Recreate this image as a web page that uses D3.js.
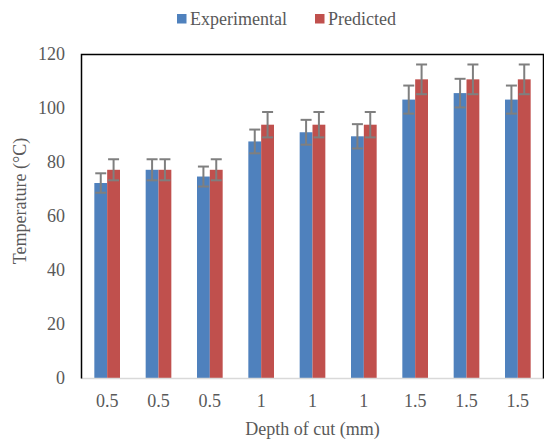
<!DOCTYPE html>
<html>
<head>
<meta charset="utf-8">
<script src="https://cdn.jsdelivr.net/npm/d3@7"></script>
<style>
  html, body { margin: 0; padding: 0; background: #fff; }
  svg { display: block; font-family: "Liberation Serif", "Times New Roman", serif; }
</style>
</head>
<body>
<svg id="chart" width="544" height="441"></svg>
<script>
// Depth of cut for each test run
const categories = ["0.5", "0.5", "0.5", "1", "1", "1", "1.5", "1.5", "1.5"];
// Measured and model temperatures (°C)
const experimental = [72.4, 77.3, 74.8, 87.8, 91.2, 89.7, 103.3, 105.7, 103.3];
const predicted = [77.3, 77.3, 77.3, 94.0, 94.0, 94.0, 110.8, 110.8, 110.8];
// Error bar half-lengths (°C)
const experimentalErr = [3.6, 3.9, 3.7, 4.4, 4.6, 4.5, 5.2, 5.3, 5.2];
const predictedErr = [3.9, 3.9, 3.9, 4.7, 4.7, 4.7, 5.5, 5.5, 5.5];
const yTicks = [0, 20, 40, 60, 80, 100, 120];
const seriesNames = ["Experimental", "Predicted"];
const seriesColors = ["#4f81bd", "#c0504d"];

const svg = d3.select("#chart");
const m = { left: 81.5, right: 543.5, top: 54.5, bottom: 378.5 };

const x = d3.scaleBand().domain(d3.range(categories.length)).range([m.left, m.right]).paddingInner(0).paddingOuter(0);
const y = d3.scaleLinear().domain([0, 120]).range([m.bottom, m.top]);
const sub = d3.scaleBand().domain([0, 1]).range([0, x.bandwidth()]).paddingOuter(1).paddingInner(0);

const textColor = "#595959";

// Y tick labels
svg.append("g").selectAll("text").data(yTicks).join("text")
  .attr("x", 65).attr("y", d => y(d)).attr("dy", "0.33em")
  .attr("text-anchor", "end").attr("font-size", 18).attr("fill", textColor)
  .text(d => d);

// Bars
const series = [experimental, predicted];
const errs = [experimentalErr, predictedErr];
series.forEach((vals, s) => {
  svg.append("g").selectAll("rect").data(vals).join("rect")
    .attr("x", (d, i) => x(i) + sub(s))
    .attr("y", d => y(d))
    .attr("width", sub.bandwidth())
    .attr("height", d => y(0) - y(d))
    .attr("fill", seriesColors[s]);
});

// Error bars
series.forEach((vals, s) => {
  const g = svg.append("g").attr("stroke", "#7f7f7f").attr("stroke-width", 2).attr("fill", "none");
  vals.forEach((v, i) => {
    const cx = x(i) + sub(s) + sub.bandwidth() / 2;
    const e = errs[s][i];
    const top = y(v + e), bot = y(v - e);
    g.append("line").attr("x1", cx).attr("x2", cx).attr("y1", top).attr("y2", bot);
    g.append("line").attr("x1", cx - 5.5).attr("x2", cx + 5.5).attr("y1", top).attr("y2", top);
    g.append("line").attr("x1", cx - 5.5).attr("x2", cx + 5.5).attr("y1", bot).attr("y2", bot);
  });
});

// Plot frame: black on left, top and right, light gray baseline
svg.append("line").attr("x1", m.left).attr("x2", m.right).attr("y1", y(0)).attr("y2", y(0))
  .attr("stroke", "#d9d9d9").attr("stroke-width", 1.5);
svg.append("path")
  .attr("d", `M${m.left},${m.bottom}V${m.top}H${m.right}V${m.bottom}`)
  .attr("fill", "none").attr("stroke", "#000").attr("stroke-width", 1.5);

// X tick labels
svg.append("g").selectAll("text").data(categories).join("text")
  .attr("x", (d, i) => x(i) + x.bandwidth() / 2).attr("y", 407)
  .attr("text-anchor", "middle").attr("font-size", 18).attr("fill", textColor)
  .text(d => d);

// Axis titles
svg.append("text").attr("x", (m.left + m.right) / 2).attr("y", 435)
  .attr("text-anchor", "middle").attr("font-size", 18).attr("fill", textColor)
  .text("Depth of cut (mm)");
svg.append("text").attr("transform", "translate(26,201) rotate(-90)")
  .attr("text-anchor", "middle").attr("font-size", 18).attr("fill", textColor)
  .text("Temperature (°C)");

// Legend
const legend = svg.append("g");
const legendX = [177, 315];
seriesNames.forEach((name, s) => {
  legend.append("rect").attr("x", legendX[s]).attr("y", 14).attr("width", 9.5).attr("height", 9.5)
    .attr("fill", seriesColors[s]);
  legend.append("text").attr("x", legendX[s] + 13).attr("y", 25)
    .attr("font-size", 18).attr("fill", textColor).text(name);
});
</script>
</body>
</html>
